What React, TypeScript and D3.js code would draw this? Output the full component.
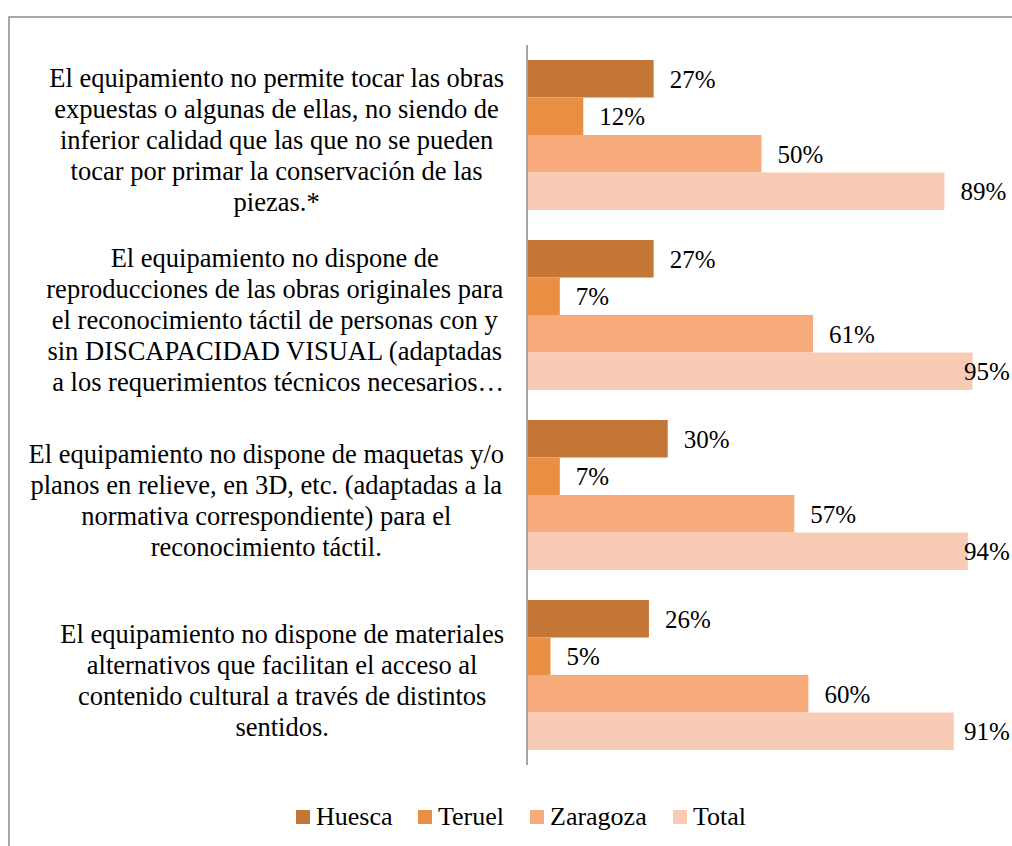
import React, { useRef, useEffect } from "react";
import * as d3 from "d3";

const categories = [
  [
    "El equipamiento no permite tocar las obras",
    "expuestas o algunas de ellas, no siendo de",
    "inferior calidad que las que no se pueden",
    "tocar por primar la conservación de las",
    "piezas.*",
  ],
  [
    "El equipamiento no dispone de",
    "reproducciones de las obras originales para",
    "el reconocimiento táctil de personas con y",
    "sin DISCAPACIDAD VISUAL (adaptadas",
    " a los requerimientos técnicos necesarios…",
  ],
  [
    "El equipamiento no dispone de maquetas y/o",
    "planos en relieve, en 3D, etc. (adaptadas a la",
    "normativa correspondiente) para el",
    "reconocimiento táctil.",
  ],
  [
    "El equipamiento no dispone de materiales",
    "alternativos que facilitan el acceso al",
    "contenido cultural a través de distintos",
    "sentidos.",
  ],
];

const seriesNames = ["Huesca", "Teruel", "Zaragoza", "Total"];
const seriesColors = ["#c47636", "#e98f43", "#f7ab7a", "#f8cbb5"];

const huesca = [0.27, 0.27, 0.30, 0.26];
const teruel = [0.12, 0.07, 0.07, 0.05];
const zaragoza = [0.50, 0.61, 0.57, 0.60];
const total = [0.89, 0.95, 0.94, 0.91];

const FONT = "Liberation Serif, Times New Roman, serif";

export default function App() {
  const svgRef = useRef<SVGSVGElement>(null);

  useEffect(() => {
    const svg = d3.select(svgRef.current);
    svg.selectAll("*").remove();

    const values = [huesca, teruel, zaragoza, total];
    const catIdx = categories.map((_, i) => String(i));

    const y0 = d3.scaleBand().domain(catIdx).range([45, 765]);
    const y1 = d3.scaleBand().domain(seriesNames).range([0, y0.bandwidth()]).paddingOuter(0.4);
    const x = d3.scaleLinear().domain([0, 1]).range([527, 996]);

    // outer frame (cut off on the right and bottom)
    svg.append("rect")
      .attr("x", 9).attr("y", 17)
      .attr("width", 1020).attr("height", 860)
      .attr("fill", "#fff")
      .attr("stroke", "#8c8c8c")
      .attr("stroke-width", 1.5);

    // bars
    seriesNames.forEach((s, si) => {
      const g = svg.append("g");
      g.selectAll("rect")
        .data(values[si])
        .enter()
        .append("rect")
        .attr("x", x(0))
        .attr("y", (_, i) => y0(String(i))! + y1(s)!)
        .attr("width", d => x(d) - x(0))
        .attr("height", y1.bandwidth())
        .attr("fill", seriesColors[si]);

      g.selectAll("text")
        .data(values[si])
        .enter()
        .append("text")
        .attr("x", d => Math.min(x(d) + 16, 964))
        .attr("y", (_, i) => y0(String(i))! + y1(s)! + y1.bandwidth() / 2 + 9)
        .attr("font-family", FONT)
        .attr("font-size", 25)
        .attr("fill", "#000")
        .text(d => `${Math.round(d * 100)}%`);
    });

    // vertical axis line
    svg.append("line")
      .attr("x1", x(0)).attr("x2", x(0))
      .attr("y1", 45).attr("y2", 765)
      .attr("stroke", "#a6a6a6")
      .attr("stroke-width", 2);

    // category labels, block right edge near the axis, lines centred in block
    categories.forEach((lines, ci) => {
      const cy = y0(String(ci))! + y0.bandwidth() / 2;
      const g = svg.append("g");
      const texts = g.selectAll("text")
        .data(lines)
        .enter()
        .append("text")
        .attr("y", (_, i) => cy + (i - (lines.length - 1) / 2) * 31 + 14)
        .attr("font-family", FONT)
        .attr("font-size", 26.5)
        .attr("text-anchor", "middle")
        .attr("fill", "#000")
        .style("white-space", "pre")
        .text(d => d);
      let maxW = 0;
      texts.each(function () {
        maxW = Math.max(maxW, (this as SVGTextElement).getComputedTextLength());
      });
      texts.attr("x", 504 - maxW / 2);
    });

    // legend
    const legendX = [296, 418, 530, 673];
    seriesNames.forEach((s, si) => {
      const lg = svg.append("g").attr("transform", `translate(${legendX[si]}, 810)`);
      lg.append("rect").attr("width", 14).attr("height", 14).attr("fill", seriesColors[si]);
      lg.append("text")
        .attr("x", 20).attr("y", 15)
        .attr("font-family", FONT)
        .attr("font-size", 26)
        .attr("fill", "#000")
        .text(s);
    });
  }, []);

  return (
    <svg
      ref={svgRef}
      width={1012}
      height={846}
      style={{ position: "absolute", left: 0, top: 0, display: "block", background: "#fff" }}
    />
  );
}
